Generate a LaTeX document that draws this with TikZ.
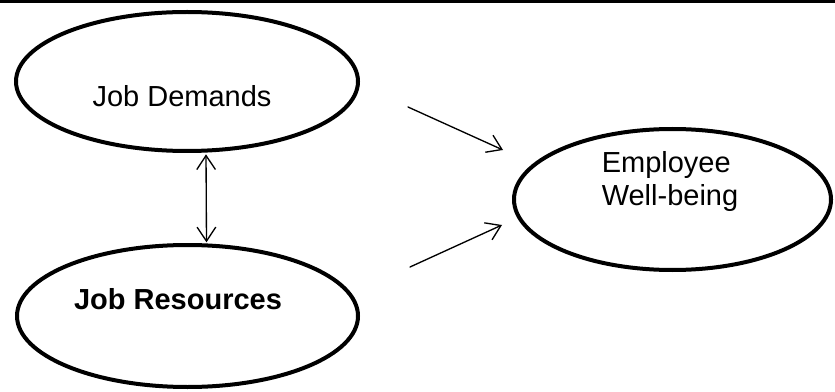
\documentclass[tikz,border=0pt]{standalone}
\usepackage{fontspec}
\setmainfont{Liberation Sans}
\usetikzlibrary{arrows.meta,positioning,calc,shapes.geometric}
\tikzset{
    every picture/.style={line cap=round,line join=round},
    construct/.style={draw=black,ellipse,line width=3pt,inner sep=0pt},
    cname/.style={font=\fontsize{21.75}{24.75}\selectfont,align=left,inner sep=0pt},
    linkarrow/.style={->,draw=black,line width=1pt},
    toprule/.style={draw=black,line width=2.25pt,line cap=butt}
}
\begin{document}
\begin{tikzpicture}[x=0.75pt,y=-0.75pt,>={Straight Barb[length=10.5pt,width=14pt]}]
  \useasboundingbox (0,0) rectangle (835,392);
  \draw[toprule] (0,1.5) -- (835,1.5);
  % the three constructs
  \node[construct,minimum width=256.5pt,minimum height=104.25pt] (demands) at (187,81.5) {};
  \node[construct,minimum width=255.75pt,minimum height=106.5pt] (resources) at (187.5,316) {};
  \node[construct,minimum width=237.75pt,minimum height=105.75pt] (wellbeing) at (672.5,199.5) {};
  \node[cname] (demandstxt) at (182,96) {Job Demands};
  \node[cname,font=\fontsize{21.75}{24.75}\selectfont\bfseries] (resourcestxt) at (178,299) {Job Resources};
  \node[cname] (wellbeingtxt) at (670,182) {Employee\\Well-being};
  % free ends of the two paths
  \coordinate (dtail) at (408,107);
  \coordinate (dhead) at (503,150);
  \coordinate (rtail) at (410,267);
  \coordinate (rhead) at (502,225);
  \draw[linkarrow,<->,shorten <=1pt,shorten >=0.5pt] ([xshift=14.25pt]demands.south) -- ([xshift=14.25pt]resources.north);
  \draw[linkarrow] (dtail) -- (dhead);
  \draw[linkarrow] (rtail) -- (rhead);
\end{tikzpicture}
\end{document}
